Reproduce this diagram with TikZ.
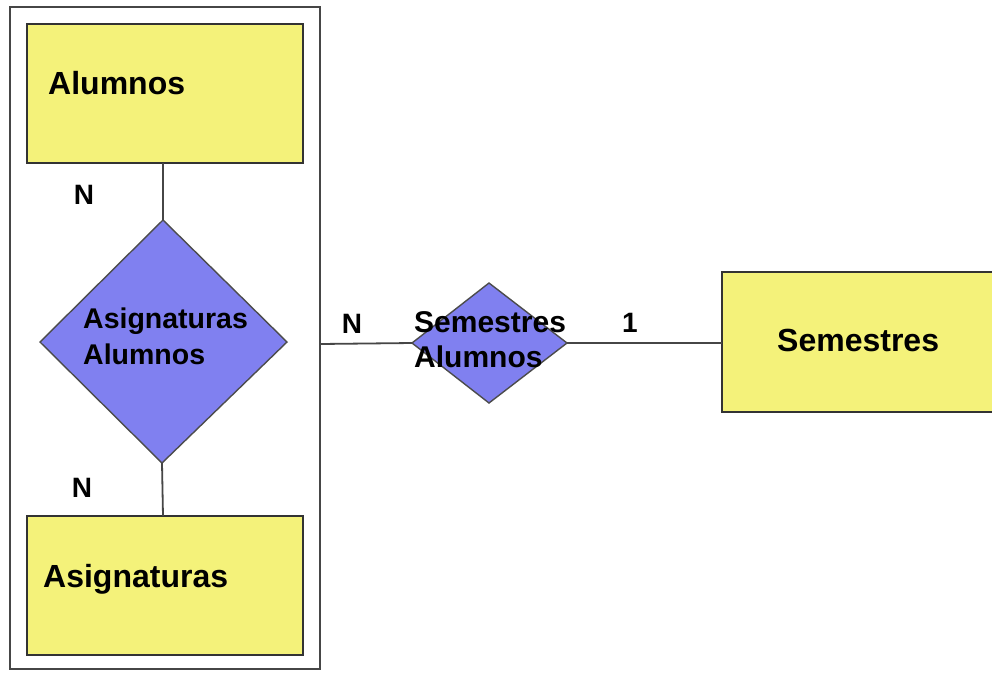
\documentclass[tikz,border=0pt]{standalone}
\usepackage{fontspec}
\setmainfont{Liberation Sans}
\usetikzlibrary{shapes.geometric}
\definecolor{entyellow}{RGB}{244,242,122}
\definecolor{relblue}{RGB}{128,128,240}
\definecolor{edgegray}{RGB}{70,70,70}
\begin{document}
\begin{tikzpicture}[x=1pt,y=-1pt,
  entity/.style={draw=black!80,line width=1.8pt,fill=entyellow},
  relation/.style={draw=black!70,line width=1.4pt,fill=relblue},
  link/.style={draw=edgegray,line width=1.8pt},
  boxtext/.style={font=\fontsize{32}{36}\selectfont\bfseries,anchor=west,inner sep=0pt},
  reltext/.style={font=\fontsize{28.5}{36}\selectfont\bfseries,anchor=west,inner sep=0pt,align=left},
  smalltext/.style={font=\fontsize{30}{35}\selectfont\bfseries,anchor=west,inner sep=0pt,align=left},
  card/.style={font=\fontsize{28}{30}\selectfont\bfseries,inner sep=0pt}]
\useasboundingbox (0,0) rectangle (992,673);
\fill[white] (0,0) rectangle (992,673);

% aggregation frame around the inner relationship
\draw[draw=edgegray,line width=1.8pt] (10,7) rectangle (320,669);
\coordinate (frameR) at (320,344);

% entities
\draw[entity] (27,24) rectangle (303,163);
\coordinate (alumTop) at (163,163);
\node[boxtext] (alum) at (48,83) {Alumnos};

\draw[entity] (27,516) rectangle (303,655);
\coordinate (asigTop) at (163,516);
\node[boxtext] (asig) at (43,579) {Asignaturas};

\draw[entity] (722,272) rectangle (1000,412);
\coordinate (semL) at (722,343);
\node[boxtext] (sem) at (777,340) {Semestres};

% relationships
\draw[relation] (163,220) coordinate (r1N) -- (287,342) coordinate (r1E)
  -- (162,463) coordinate (r1S) -- (40,342) coordinate (r1W) -- cycle;
\node[reltext] (r1t) at (83,336) {Asignaturas\\Alumnos};

\draw[relation] (489,283) coordinate (r2N) -- (567,343) coordinate (r2E)
  -- (489,403) coordinate (r2S) -- (412,343) coordinate (r2W) -- cycle;

% connectors
\draw[link] (alumTop) -- (r1N);
\draw[link] (r1S) -- (asigTop);
\draw[link] (frameR) -- (r2W);
\draw[link] (r2E) -- (semL);

\node[smalltext] (r2t) at (414,340) {Semestres\\Alumnos};

% cardinalities
\node[card] (c1) at (84,195) {N};
\node[card] (c2) at (82,488) {N};
\node[card] (c3) at (352,324) {N};
\node[card] (c4) at (630,323) {1};
\end{tikzpicture}
\end{document}
